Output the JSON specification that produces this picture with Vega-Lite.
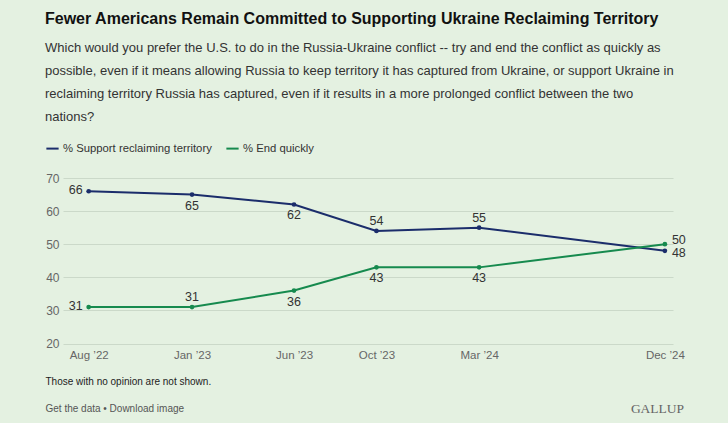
{
  "$schema": "https://vega.github.io/schema/vega-lite/v6.json",
  "width": 610,
  "height": 165.5,
  "autosize": {"type": "none"},
  "padding": {"left": 63, "top": 178, "right": 55, "bottom": 79.5},
  "background": "#e4f1e1",
  "config": {
    "view": {"stroke": null},
    "font": "Liberation Sans",
    "text": {"font": "Liberation Sans"}
  },
  "title": {
    "text": "Fewer Americans Remain Committed to Supporting Ukraine Reclaiming Territory",
    "subtitle": [
      "Which would you prefer the U.S. to do in the Russia-Ukraine conflict -- try and end the conflict as quickly as",
      "possible, even if it means allowing Russia to keep territory it has captured from Ukraine, or support Ukraine in",
      "reclaiming territory Russia has captured, even if it results in a more prolonged conflict between the two",
      "nations?"
    ],
    "anchor": "start",
    "frame": "group",
    "dx": -18,
    "font": "Liberation Sans",
    "fontSize": 16,
    "fontWeight": "bold",
    "color": "#111111",
    "subtitleFont": "Liberation Sans",
    "subtitleFontSize": 13,
    "subtitleColor": "#333333",
    "subtitleLineHeight": 23,
    "subtitlePadding": 15,
    "offset": 17
  },
  "datasets": {
    "poll": [
      {"date": "2022-08-15T00:00:00", "series": "% Support reclaiming territory", "value": 66},
      {"date": "2023-01-15T00:00:00", "series": "% Support reclaiming territory", "value": 65},
      {"date": "2023-06-15T00:00:00", "series": "% Support reclaiming territory", "value": 62},
      {"date": "2023-10-15T00:00:00", "series": "% Support reclaiming territory", "value": 54},
      {"date": "2024-03-15T00:00:00", "series": "% Support reclaiming territory", "value": 55},
      {"date": "2024-12-15T00:00:00", "series": "% Support reclaiming territory", "value": 48},
      {"date": "2022-08-15T00:00:00", "series": "% End quickly", "value": 31},
      {"date": "2023-01-15T00:00:00", "series": "% End quickly", "value": 31},
      {"date": "2023-06-15T00:00:00", "series": "% End quickly", "value": 36},
      {"date": "2023-10-15T00:00:00", "series": "% End quickly", "value": 43},
      {"date": "2024-03-15T00:00:00", "series": "% End quickly", "value": 43},
      {"date": "2024-12-15T00:00:00", "series": "% End quickly", "value": 50}
    ]
  },
  "data": {"name": "poll"},
  "encoding": {
    "x": {
      "field": "date",
      "type": "temporal",
      "scale": {
        "domain": [
          {"year": 2022, "month": 7, "date": 8},
          {"year": 2024, "month": 12, "date": 27}
        ]
      },
      "axis": {
        "title": "Those with no opinion are not shown.",
        "titleAnchor": "start",
        "titleAlign": "left",
        "titleBaseline": "middle",
        "titleX": -18,
        "titleY": 37.5,
        "titleFont": "Liberation Sans",
        "titleFontSize": 10,
        "titleFontWeight": "normal",
        "titleColor": "#222222",
        "values": [
          {"year": 2022, "month": 8, "date": 15},
          {"year": 2023, "month": 1, "date": 15},
          {"year": 2023, "month": 6, "date": 15},
          {"year": 2023, "month": 10, "date": 15},
          {"year": 2024, "month": 3, "date": 15},
          {"year": 2024, "month": 12, "date": 15}
        ],
        "format": "%b ’%y",
        "grid": false,
        "domain": false,
        "ticks": false,
        "labelPadding": 6,
        "labelFontSize": 11.5,
        "labelColor": "#666666",
        "labelFont": "Liberation Sans"
      }
    },
    "y": {
      "field": "value",
      "type": "quantitative",
      "scale": {"domain": [20, 70], "nice": false},
      "axis": {
        "title": "Get the data • Download image",
        "titleAngle": 0,
        "titleAlign": "left",
        "titleBaseline": "middle",
        "titleX": -18,
        "titleY": 230,
        "titleFont": "Liberation Sans",
        "titleFontSize": 10,
        "titleFontWeight": "normal",
        "titleColor": "#555555",
        "values": [20, 30, 40, 50, 60, 70],
        "domain": false,
        "ticks": false,
        "gridColor": "#cbd9c9",
        "gridWidth": 1,
        "labelPadding": 4,
        "labelFontSize": 12,
        "labelColor": "#666666",
        "labelFont": "Liberation Sans"
      }
    },
    "color": {
      "field": "series",
      "type": "nominal",
      "scale": {
        "domain": ["% Support reclaiming territory", "% End quickly"],
        "range": ["#1b2d6b", "#168a4e"]
      },
      "legend": {
        "title": null,
        "orient": "none",
        "legendX": -18,
        "legendY": -37,
        "direction": "horizontal",
        "symbolType": "stroke",
        "symbolStrokeWidth": 2,
        "symbolSize": 150,
        "labelFontSize": 11.3,
        "labelColor": "#333333",
        "labelFont": "Liberation Sans",
        "columnPadding": 10,
        "labelOffset": 3
      }
    }
  },
  "layer": [
    {
      "layer": [
        {"mark": {"type": "line", "strokeWidth": 2}},
        {
          "transform": [{"filter": "month(datum.date) === 7"}],
          "mark": {"type": "text", "align": "right", "baseline": "middle", "dx": -6, "dy": -1, "fontSize": 12.5},
          "encoding": {"text": {"field": "value", "type": "quantitative"}, "color": {"value": "#333333"}}
        },
        {
          "transform": [{"filter": "(datum.series === '% Support reclaiming territory' && (month(datum.date) === 0 || month(datum.date) === 5)) || (datum.series === '% End quickly' && (month(datum.date) === 5 || month(datum.date) === 9 || month(datum.date) === 2))"}],
          "mark": {"type": "text", "align": "center", "baseline": "middle", "dy": 11, "fontSize": 12.5},
          "encoding": {"text": {"field": "value", "type": "quantitative"}, "color": {"value": "#333333"}}
        },
        {
          "transform": [{"filter": "(datum.series === '% Support reclaiming territory' && (month(datum.date) === 9 || month(datum.date) === 2)) || (datum.series === '% End quickly' && month(datum.date) === 0)"}],
          "mark": {"type": "text", "align": "center", "baseline": "middle", "dy": -10, "fontSize": 12.5},
          "encoding": {"text": {"field": "value", "type": "quantitative"}, "color": {"value": "#333333"}}
        },
        {
          "transform": [{"filter": "month(datum.date) === 11 && datum.series === '% End quickly'"}],
          "mark": {"type": "text", "align": "left", "baseline": "middle", "dx": 7, "dy": -4, "fontSize": 12.5},
          "encoding": {"text": {"field": "value", "type": "quantitative"}, "color": {"value": "#333333"}}
        },
        {
          "transform": [{"filter": "month(datum.date) === 11 && datum.series === '% Support reclaiming territory'"}],
          "mark": {"type": "text", "align": "left", "baseline": "middle", "dx": 7, "dy": 2, "fontSize": 12.5},
          "encoding": {"text": {"field": "value", "type": "quantitative"}, "color": {"value": "#333333"}}
        }
      ]
    },
    {
      "mark": {"type": "circle", "size": 22, "opacity": 1},
      "encoding": {
        "y": {
          "field": "value",
          "type": "quantitative",
          "scale": {"domain": [20, 70], "nice": false},
          "axis": {
            "orient": "right",
            "labels": false,
            "ticks": false,
            "domain": false,
            "grid": false,
            "title": "GALLUP",
            "titleAngle": 0,
            "titleAlign": "center",
            "titleBaseline": "middle",
            "titleX": -16,
            "titleY": 230,
            "titleFont": "Liberation Serif",
            "titleFontSize": 13.5,
            "titleFontWeight": "normal",
            "titleColor": "#666666"
          }
        }
      }
    }
  ],
  "resolve": {"axis": {"y": "independent"}}
}
